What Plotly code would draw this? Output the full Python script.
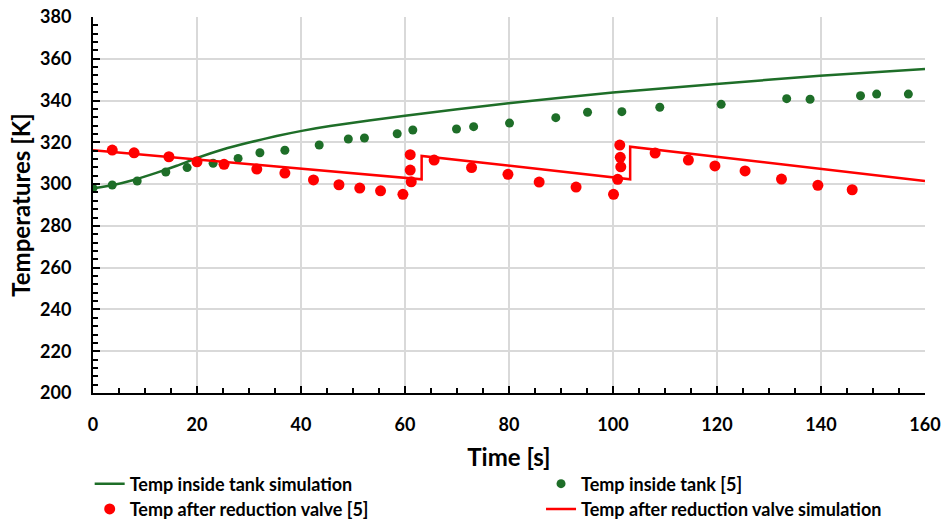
import plotly.graph_objects as go

# Simulation: temperature inside tank
tank_sim_t = [0, 3.9, 7.8, 12.3, 16.1, 20, 25.1, 30.2, 35.3, 40.4, 45.6, 60, 79.9, 100, 119.9, 139.8, 160]
tank_sim_T = [298.0, 299.6, 302.0, 305.5, 308.8, 312.5, 316.7, 320.0, 323.0, 325.6, 327.8, 332.7, 338.7, 343.9, 347.9, 351.9, 355.1]

# Measured: temperature inside tank [5]
tank_t = [0, 3.7, 8.5, 14.0, 18.1, 23.1, 27.9, 32.1, 36.9, 43.5, 49.1, 52.2, 58.5, 61.5, 69.9, 73.2,
          80.1, 89.0, 95.1, 101.7, 109.0, 120.8, 133.4, 137.9, 147.6, 150.7, 156.8]
tank_T = [298.1, 299.6, 301.5, 305.8, 307.9, 310.0, 312.3, 315.0, 316.2, 318.7, 321.6, 322.1, 324.1, 325.9, 326.4, 327.5,
          329.2, 331.8, 334.4, 334.7, 336.8, 338.2, 340.9, 340.6, 342.3, 343.1, 343.1]

# Measured: temperature after reduction valve [5]
valve_t = [3.7, 7.9, 14.6, 20.0, 25.2, 31.5, 36.9, 42.4, 47.3, 51.3, 55.3, 59.6, 61.0, 61.0, 61.2,
           65.6, 72.8, 79.8, 85.8, 92.9, 100.1, 100.9, 101.3, 101.4, 101.5,
           108.1, 114.5, 119.6, 125.4, 132.4, 139.4, 146.0]
valve_T = [316.3, 315.0, 313.1, 310.7, 309.5, 307.2, 305.3, 302.0, 299.7, 298.1, 296.8, 295.1, 314.1, 306.7, 301.1,
           311.5, 307.9, 304.7, 301.0, 298.6, 295.1, 302.3, 318.7, 312.8, 308.3,
           314.9, 311.5, 308.7, 306.3, 302.4, 299.4, 297.3]

# Simulation: temperature after reduction valve
valve_sim_t = [0, 63.2, 63.2, 103.3, 103.3, 160]
valve_sim_T = [316.2, 302.3, 313.5, 302.3, 317.9, 301.5]

GREEN = "#1E6E28"
RED = "#FF0000"
FONT = "Lato"

fig = go.Figure()
fig.add_trace(go.Scatter(x=tank_sim_t, y=tank_sim_T, mode="lines", line=dict(color=GREEN, width=2.5, shape="spline", smoothing=0.6),
                         name="Temp inside tank simulation", legend="legend"))
fig.add_trace(go.Scatter(x=tank_t, y=tank_T, mode="markers", marker=dict(color=GREEN, size=9),
                         name="Temp inside tank [5]", legend="legend2"))
fig.add_trace(go.Scatter(x=valve_t, y=valve_T, mode="markers", marker=dict(color=RED, size=11),
                         name="Temp after reduction valve [5]", legend="legend3"))
fig.add_trace(go.Scatter(x=valve_sim_t, y=valve_sim_T, mode="lines", line=dict(color=RED, width=2.5),
                         name="Temp after reduction valve simulation", legend="legend4"))

legfont = dict(family=FONT, size=18, color="black", weight="bold")
def leg(x, y):
    return dict(x=x, y=y, xanchor="left", yanchor="middle", orientation="v",
                font=legfont, bgcolor="rgba(0,0,0,0)", borderwidth=0)

fig.update_layout(
    width=946, height=519,
    margin=dict(l=93, r=21, t=17, b=126, autoexpand=False),
    paper_bgcolor="white", plot_bgcolor="white",
    font=dict(family=FONT, color="black"),
    showlegend=True,
    legend=leg(-0.004, -0.242),
    legend2=leg(0.5385, -0.242),
    legend3=leg(-0.004, -0.309),
    legend4=leg(0.5385, -0.309),
)

fig.update_xaxes(
    range=[0, 160], dtick=20, tick0=0, automargin=False,
    showline=True, linecolor="black", linewidth=2,
    ticks="inside", ticklen=7, tickwidth=2, tickcolor="black",
    minor=dict(dtick=5, ticks="inside", ticklen=5, tickwidth=1.5, tickcolor="black", showgrid=False),
    showgrid=True, gridcolor="#D9D9D9", gridwidth=1.5,
    zeroline=False, ticklabeloverflow="allow",
    tickfont=dict(family=FONT, size=18, color="black", weight="bold"),
    ticklabelstandoff=14,
    title=dict(text="Time [s]", font=dict(family=FONT, size=24, color="black", weight="bold"), standoff=16),
)
fig.update_yaxes(
    range=[200, 380], dtick=20, tick0=200, automargin=False,
    showline=True, linecolor="black", linewidth=2,
    ticks="inside", ticklen=7, tickwidth=2, tickcolor="black",
    minor=dict(dtick=4, ticks="inside", ticklen=5, tickwidth=1.5, tickcolor="black", showgrid=False),
    showgrid=True, gridcolor="#D9D9D9", gridwidth=1.5,
    zeroline=False, ticklabeloverflow="allow",
    tickfont=dict(family=FONT, size=18, color="black", weight="bold"),
    ticklabelstandoff=16,
    title=dict(text="Temperatures [K]", font=dict(family=FONT, size=24, color="black", weight="bold"), standoff=3),
)

# remove the default 8px page margin so the 946x519 figure fills the window exactly
fig.write_html("out.html", config={"displayModeBar": False},
               post_script="document.body.style.margin='0';document.body.style.overflow='hidden';")
